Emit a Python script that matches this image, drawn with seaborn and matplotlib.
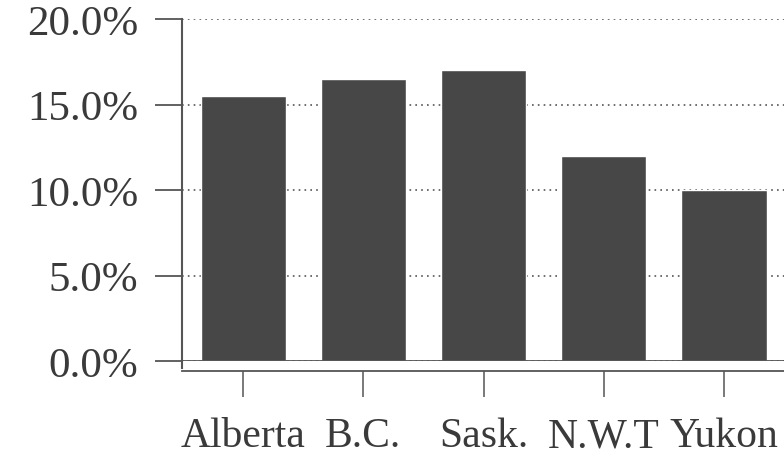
import matplotlib
matplotlib.use("Agg")
import matplotlib.pyplot as plt
import matplotlib.ticker as ticker
import seaborn as sns
import pandas as pd

provinces = ["Alberta", "B.C.", "Sask.", "N.W.T", "Yukon"]
shares = [15.5, 16.5, 17.0, 12.0, 10.0]

sns.set_style("white")
plt.rcParams["font.family"] = ["Liberation Serif", "DejaVu Serif"]

df = pd.DataFrame({"province": provinces, "share": shares})

fig = plt.figure(figsize=(7.84, 4.6), dpi=100)
ax = fig.add_axes([0.232, 0.213, 0.768, 0.7435])

ax.yaxis.grid(True, linestyle=(0, (1, 2.5)), color="#555555", linewidth=1.2)
ax.set_axisbelow(True)

sns.barplot(data=df, x="province", y="share", color="#474747", saturation=1,
            width=0.71, ax=ax, zorder=2)

ax.set_ylim(0, 20)
ax.set_xlim(-0.51, 4.5)
ax.set_yticks([0, 5, 10, 15, 20])
ax.yaxis.set_major_formatter(ticker.PercentFormatter(xmax=100, decimals=1))

# zero line across the plot
ax.axhline(0, color="#555555", linewidth=1.3, zorder=3)

for s in ["top", "right"]:
    ax.spines[s].set_visible(False)
ax.spines["bottom"].set_position(("outward", 7))
ax.spines["bottom"].set_color("#555555")
ax.spines["bottom"].set_linewidth(1.3)
ax.spines["left"].set_color("#555555")
ax.spines["left"].set_linewidth(1.5)
ax.spines["left"].set_bounds(-0.41, 20)

ax.tick_params(axis="y", length=19.5, width=1.3, color="#555555", pad=12,
               labelsize=31, labelcolor="#3a3a3a", left=True)
ax.tick_params(axis="x", length=19, width=1.1, color="#555555", pad=14,
               labelsize=30, labelcolor="#3a3a3a", bottom=True)

ax.set_xlabel("")
ax.set_ylabel("")

fig.savefig("out.png", dpi=100)
